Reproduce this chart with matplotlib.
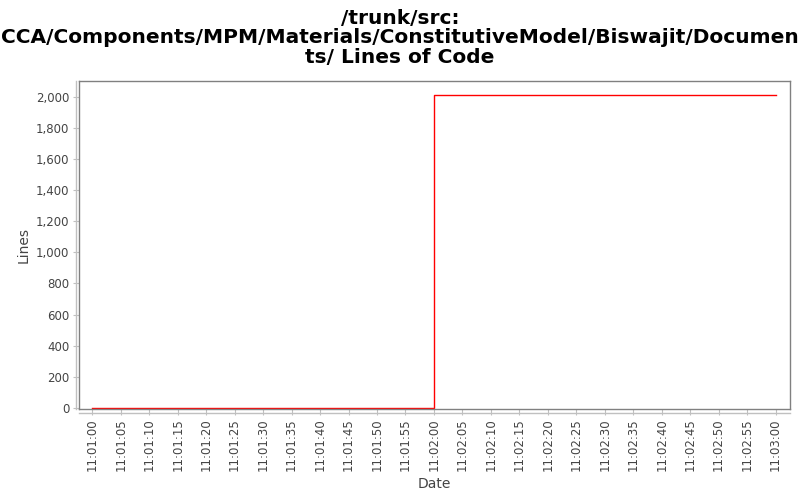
import datetime as dt
import matplotlib
matplotlib.use("Agg")
import matplotlib.pyplot as plt
import matplotlib.dates as mdates
from matplotlib.lines import Line2D

# data
times = ["11:01:00", "11:02:00", "11:03:00"]
lines = [0, 2010, 2010]
y_ticks = [0, 200, 400, 600, 800, 1000, 1200, 1400, 1600, 1800, 2000]

TITLE = "/trunk/src:\nCCA/Components/MPM/Materials/ConstitutiveModel/Biswajit/Documen\nts/ Lines of Code"


def to_dt(s):
    return dt.datetime.strptime("2000-01-01 " + s, "%Y-%m-%d %H:%M:%S")


def main():
    x = [to_dt(t) for t in times]

    fig = plt.figure(figsize=(8, 5), dpi=100)
    ax = fig.add_axes([0.099, 0.182, 0.889, 0.656])

    ax.plot(x, lines, drawstyle="steps-post", color="#ff0000", lw=1)

    ax.set_xlim(to_dt("11:01:00") - dt.timedelta(seconds=2.3),
                to_dt("11:03:00") + dt.timedelta(seconds=2.6))
    ax.set_ylim(-8, 2103)
    ax.set_yticks(y_ticks)
    ax.yaxis.set_major_formatter(plt.FuncFormatter(lambda v, p: "{:,.0f}".format(v)))

    ax.xaxis.set_major_locator(mdates.SecondLocator(bysecond=range(0, 60, 5)))
    ax.xaxis.set_major_formatter(mdates.DateFormatter("%H:%M:%S"))
    for lab in ax.get_xticklabels():
        lab.set_rotation(90)

    for s in ax.spines.values():
        s.set_color("#808080")
        s.set_linewidth(1)

    # offset axis lines like the original
    ax.add_line(Line2D([-0.004, -0.004], [0, 1], transform=ax.transAxes,
                       color="#c0c0c0", lw=1, clip_on=False))
    ax.add_line(Line2D([0, 1], [-0.012, -0.012], transform=ax.transAxes,
                       color="#c0c0c0", lw=1, clip_on=False))

    ax.tick_params(axis="both", colors="#c0c0c0", labelcolor="#444444",
                   labelsize=8.5, length=4, pad=3)

    ax.set_xlabel("Date", fontsize=10, color="#444444")
    ax.set_ylabel("Lines", fontsize=10, color="#444444")
    fig.suptitle(TITLE, fontsize=14.5, fontweight="bold", y=0.983, linespacing=1.05)

    fig.savefig("out.png", dpi=100)


if __name__ == "__main__":
    main()
